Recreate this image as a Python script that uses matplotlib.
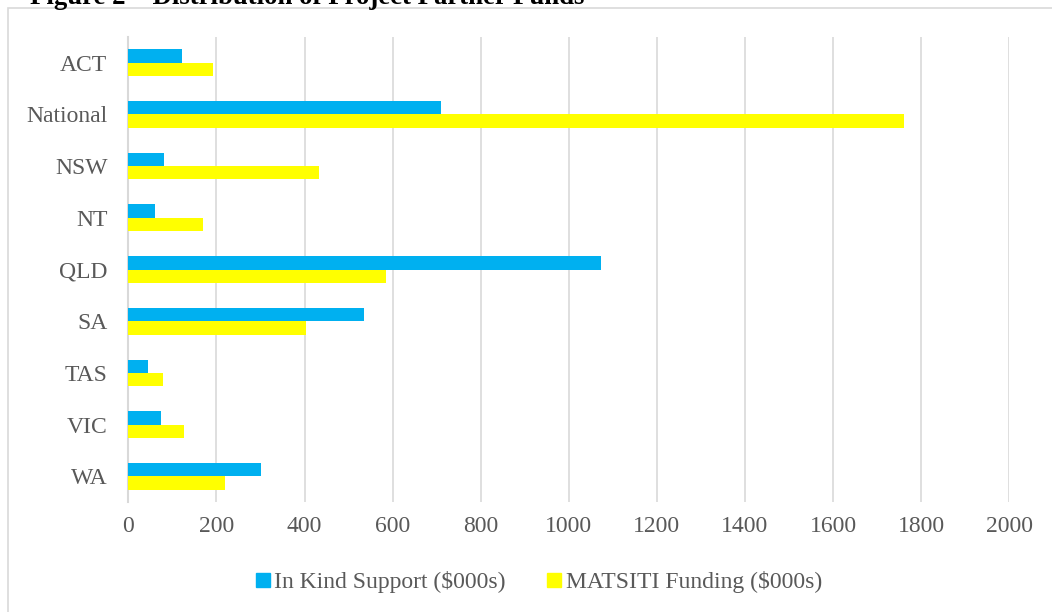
import matplotlib.pyplot as plt
import numpy as np
from matplotlib.patches import Rectangle

regions = ['ACT', 'National', 'NSW', 'NT', 'QLD', 'SA', 'TAS', 'VIC', 'WA']
in_kind = [122, 711, 81, 60, 1074, 534, 45, 74, 302]
matsiti = [192, 1760, 433, 170, 586, 403, 79, 126, 219]
x_ticks = [0, 200, 400, 600, 800, 1000, 1200, 1400, 1600, 1800, 2000]

plt.rcParams['font.family'] = ['Liberation Serif', 'DejaVu Serif']
grey = '#595959'

fig = plt.figure(figsize=(10.52, 6.12), dpi=100)
W, H = 1052, 612
ax = fig.add_axes([128.3 / W, 1 - 502.2 / H, (1009.3 - 128.3) / W, (502.2 - 36.8) / H])

# chart area border
fig.patches.append(Rectangle((7.5 / W, -0.1), 1.2, 1 - 7.5 / H + 0.1, transform=fig.transFigure,
                             fill=False, edgecolor='#d9d9d9', linewidth=1.2))

y = np.arange(len(regions))
h = 0.258
ax.barh(y - h / 2, in_kind, height=h, color='#00B0F0', label='In Kind Support ($000s)', zorder=3)
ax.barh(y + h / 2, matsiti, height=h, color='#FFFF00', label='MATSITI Funding ($000s)', zorder=3)

ax.set_xlim(0, 2000)
ax.set_ylim(len(regions) - 0.5, -0.5)
ax.set_xticks(x_ticks)
ax.set_yticks(y)
ax.set_yticklabels(regions)
ax.grid(axis='x', color='#d9d9d9', linewidth=1.2, zorder=0)
for s in ['top', 'right', 'bottom']:
    ax.spines[s].set_visible(False)
ax.spines['left'].set_color('#d9d9d9')
ax.spines['left'].set_linewidth(1.5)
ax.tick_params(axis='y', length=0, pad=15, labelsize=17, labelcolor=grey)
ax.tick_params(axis='x', length=0, pad=10, labelsize=17, labelcolor=grey)

fig.text(30 / W, 1 - 4 / H, 'Figure 2 \u2013 Distribution of Project Partner Funds',
         fontsize=19.3, fontweight='bold', ha='left', va='baseline')

handles = [plt.Line2D([], [], marker='s', linestyle='', markersize=9.5, color=c)
           for c in ['#00B0F0', '#FFFF00']]
fig.legend(handles, ['In Kind Support ($000s)', 'MATSITI Funding ($000s)'],
           loc='center', bbox_to_anchor=(539 / W, 1 - 582 / H), ncol=2, frameon=False,
           fontsize=17, labelcolor=grey, handlelength=0.55, handletextpad=0.2,
           columnspacing=1.8)

fig.savefig('out.png', dpi=100)
